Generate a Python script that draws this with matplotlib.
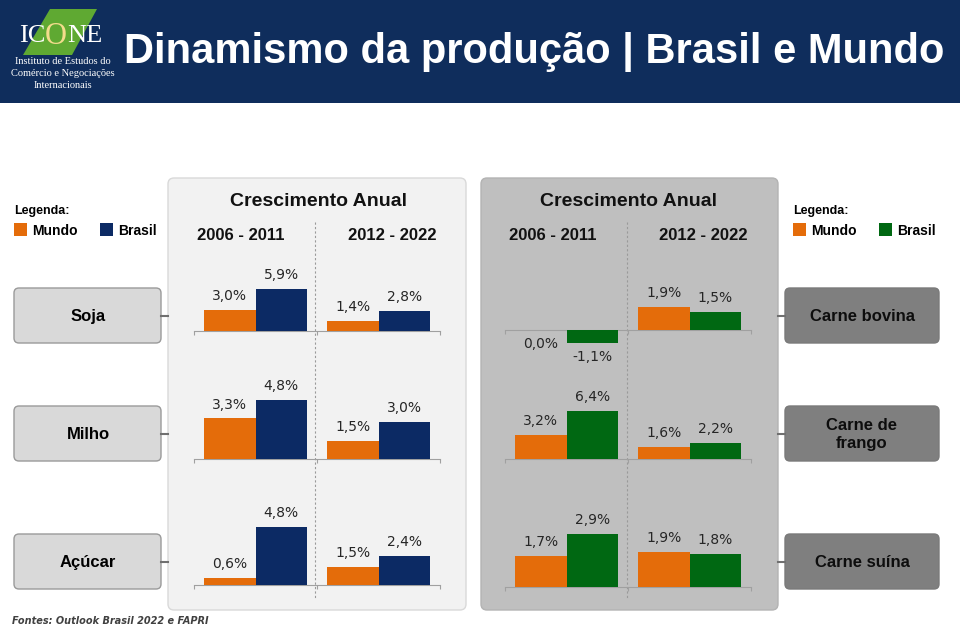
import matplotlib.pyplot as plt
from matplotlib.patches import FancyBboxPatch, Rectangle, Polygon

W, H = 960, 627

periodos = ["2006 - 2011", "2012 - 2022"]
graos = ["Soja", "Milho", "Açúcar"]
carnes = ["Carne bovina", "Carne de\nfrango", "Carne suína"]

# crescimento anual (%) -> [2006-2011, 2012-2022]
mundo_graos = [[3.0, 1.4], [3.3, 1.5], [0.6, 1.5]]
brasil_graos = [[5.9, 2.8], [4.8, 3.0], [4.8, 2.4]]
mundo_carnes = [[0.0, 1.9], [3.2, 1.6], [1.7, 1.9]]
brasil_carnes = [[-1.1, 1.5], [6.4, 2.2], [2.9, 1.8]]

LARANJA = "#e46c0a"
AZUL = "#0c2a64"
VERDE = "#006812"
FONTE = "Liberation Sans"

fig = plt.figure(figsize=(9.6, 6.27), dpi=100)
bg = fig.add_axes([0, 0, 1, 1])
bg.set_xlim(0, W)
bg.set_ylim(H, 0)
bg.axis("off")


def fmt(v):
    return f"{v:.1f}".replace(".", ",") + "%"


def caixa(x0, y0, x1, y1, fc, ec, r=6, lw=1.0):
    bg.add_patch(FancyBboxPatch((x0, y0), x1 - x0, y1 - y0,
                                boxstyle=f"round,pad=0,rounding_size={r}",
                                fc=fc, ec=ec, lw=lw))


def celula(x0, base, escala, mundo, brasil, cor):
    # escala = pixels por 1%
    top, bot = base - 80, base + 25
    ax = fig.add_axes([x0 / W, 1 - bot / H, 246 / W, (bot - top) / H])
    ax.set_xlim(0, 4.8)
    ax.set_ylim(-25 / escala, 80 / escala)
    for c, m, b in zip([1.2, 3.6], mundo, brasil):
        for x, v, col in [(c - 0.5, m, LARANJA), (c + 0.5, b, cor)]:
            ax.bar(x, v, width=1.0, color=col, zorder=3)
            off = 10 if v > 0 else -10
            ax.annotate(fmt(v), (x, v), xytext=(0, off), textcoords="offset points",
                        ha="center", va="center", fontsize=10, color="#262626",
                        family="DejaVu Sans", annotation_clip=False)
    for s in ["top", "right", "left"]:
        ax.spines[s].set_visible(False)
    ax.spines["bottom"].set_position(("data", 0))
    ax.spines["bottom"].set_color("#a0a0a0")
    ax.spines["bottom"].set_linewidth(0.8)
    ax.set_xticks([0, 2.4, 4.8])
    ax.set_xticklabels([])
    ax.set_yticks([])
    ax.tick_params(axis="x", length=3, color="#a0a0a0", width=0.8)
    ax.patch.set_alpha(0)


# faixa do titulo
bg.add_patch(Rectangle((0, 0), W, 103, fc="#0f2d5c", ec="none"))
bg.add_patch(Polygon([(50, 9), (97, 9), (72, 55), (23, 55)], closed=True, fc="#5fa932", ec="none"))
bg.text(45, 36, "IC", ha="right", va="center", color="white", fontsize=19, family="Liberation Serif")
bg.text(56, 36, "O", ha="center", va="center", color="#f3dc8c", fontsize=22, family="Liberation Serif")
bg.text(67, 36, "NE", ha="left", va="center", color="white", fontsize=19, family="Liberation Serif")
for y, t in zip([62, 74, 86], ["Instituto de Estudos do", "Comércio e Negociações", "Internacionais"]):
    bg.text(63, y, t, ha="center", va="center", color="white", fontsize=7.5, family="Liberation Serif")
bg.text(534, 52, "Dinamismo da produção | Brasil e Mundo", ha="center", va="center",
        color="white", fontsize=30, fontweight="bold", family=FONTE)

# paineis
caixa(168, 178, 466, 610, "#f2f2f2", "#d9d9d9")
caixa(481, 178, 778, 610, "#bfbfbf", "#b3b3b3")
for cx, p1, p2, sep in [(318, 241, 392, 315), (629, 553, 703, 627)]:
    bg.text(cx, 201, "Crescimento Anual", ha="center", va="center", fontsize=14,
            fontweight="bold", family=FONTE, color="#111111")
    bg.text(p1, 235, periodos[0], ha="center", va="center", fontsize=12,
            fontweight="bold", family=FONTE, color="#111111")
    bg.text(p2, 235, periodos[1], ha="center", va="center", fontsize=12,
            fontweight="bold", family=FONTE, color="#111111")
    bg.plot([sep, sep], [222, 598], ls=(0, (2, 2)), color="#9a9a9a", lw=0.8)

# legendas
for lx, cor in [(14, AZUL), (793, VERDE)]:
    bg.text(lx, 211, "Legenda:", ha="left", va="center", fontsize=9, fontweight="bold", family=FONTE)
    bg.add_patch(Rectangle((lx, 223), 13, 13, fc=LARANJA, ec="none"))
    bg.text(lx + 18, 231, "Mundo", ha="left", va="center", fontsize=10, fontweight="bold", family=FONTE)
    bx = lx + 86
    bg.add_patch(Rectangle((bx, 223), 13, 13, fc=cor, ec="none"))
    bg.text(bx + 18, 231, "Brasil", ha="left", va="center", fontsize=10, fontweight="bold", family=FONTE)

# rotulos das linhas
caixas_y = [(288, 343), (406, 461), (534, 589)]
for (y0, y1), g, c in zip(caixas_y, graos, carnes):
    ym = (y0 + y1) / 2
    caixa(14, y0, 161, y1, "#d9d9d9", "#9a9a9a", r=5)
    bg.plot([161, 168], [ym, ym], color="#707070", lw=1.5)
    bg.text(88, ym + 1, g, ha="center", va="center", fontsize=12, fontweight="bold", family=FONTE)
    caixa(785, y0, 939, y1, "#7f7f7f", "#7a7a7a", r=5)
    bg.plot([778, 785], [ym, ym], color="#707070", lw=1.5)
    bg.text(862, ym + 1, c, ha="center", va="center", fontsize=12, fontweight="bold",
            family=FONTE, color="#0d0d0d", linespacing=1.3)

# barras
base_esq = [331, 459, 585]
base_dir = [330, 459, 587]
esc_esq = [7.1, 12.3, 12.1]
esc_dir = [12.2, 7.45, 18.3]
for i in range(3):
    celula(194, base_esq[i], esc_esq[i], mundo_graos[i], brasil_graos[i], AZUL)
    celula(505, base_dir[i], esc_dir[i], mundo_carnes[i], brasil_carnes[i], VERDE)

bg.text(12, 621, "Fontes: Outlook Brasil 2022 e FAPRI", ha="left", va="center", fontsize=7,
        fontweight="bold", fontstyle="italic", family="DejaVu Sans", color="#404040")

fig.savefig("out.png", dpi=100)
